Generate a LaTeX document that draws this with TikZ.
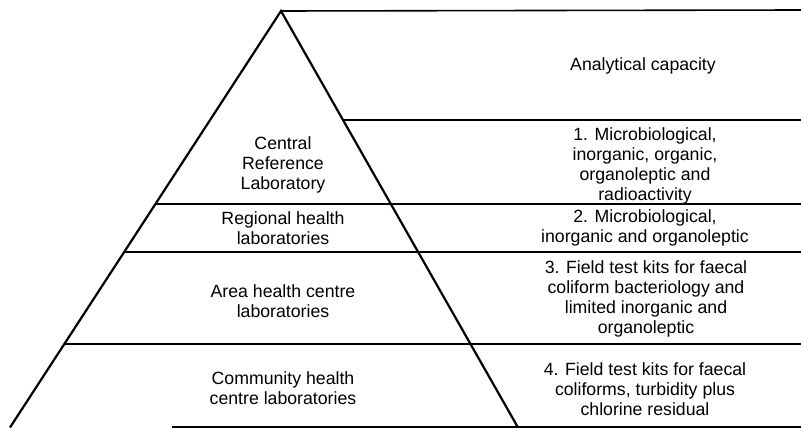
\documentclass[tikz,border=0pt]{standalone}
\usepackage{fontspec}
\setmainfont{Liberation Sans}
\usetikzlibrary{calc}
\begin{document}
\begin{tikzpicture}[x=1pt,y=-1pt,
  lbl/.style={align=center,inner sep=0pt,font=\fontsize{17.7}{20}\selectfont},
  side/.style={line width=2.2pt,line join=miter},
  rule/.style={line width=1.6pt}]
\useasboundingbox (0,0) rectangle (801,428);
\coordinate (apex) at (281,11);
\coordinate (bl) at (10,427.5);
\coordinate (br) at (518,427.5);
\coordinate (tr) at (801,10);
% pyramid sides
\draw[side] (bl) -- (apex) -- (br);
% top rule
\draw[rule] (apex) -- (tr);
% rule under heading
\coordinate (r1) at ($(apex)!{109/416.5}!(br)$);
\draw[rule] (r1) -- (801,120);
% tier rules
\coordinate (l2) at ($(apex)!{193/416.5}!(bl)$);
\coordinate (l3) at ($(apex)!{241/416.5}!(bl)$);
\coordinate (l4) at ($(apex)!{333/416.5}!(bl)$);
\draw[rule] (l2) -- (801,204);
\draw[rule] (l3) -- (801,252);
\draw[rule] (l4) -- (801,344);
% bottom rule
\coordinate (b0) at (172,427);
\draw[rule] (b0) -- (801,427);
% labels
\node[lbl] (cap) at (643,66) {Analytical capacity};
\node[lbl] (crl) at (283,165) {Central\\Reference\\Laboratory};
\node[lbl] (rhl) at (283,228) {Regional health\\laboratories};
\node[lbl] (ahc) at (283,301) {Area health centre\\laboratories};
\node[lbl] (chc) at (283,388) {Community health\\centre laboratories};
\node[lbl] (t1) at (645,166) {1. Microbiological,\\inorganic, organic,\\organoleptic and\\radioactivity};
\node[lbl] (t2) at (645,228) {2. Microbiological,\\inorganic and organoleptic};
\node[lbl] (t3) at (646,299) {3. Field test kits for faecal\\coliform bacteriology and\\limited inorganic and\\organoleptic};
\node[lbl] (t4) at (645,389) {4. Field test kits for faecal\\coliforms, turbidity plus\\chlorine residual};
\end{tikzpicture}
\end{document}
